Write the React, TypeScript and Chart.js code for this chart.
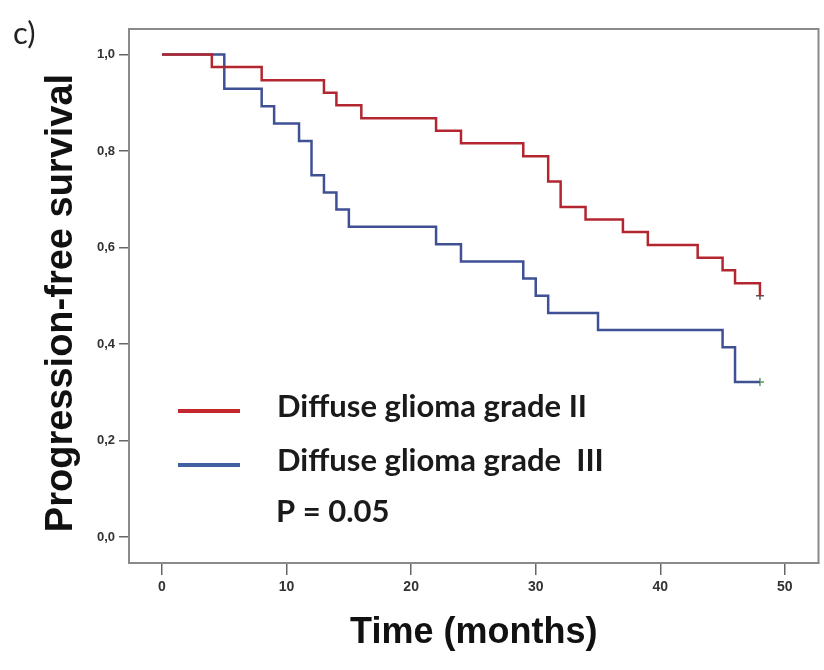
import React, { useEffect, useRef } from "react";
import { Chart, registerables } from "chart.js";

Chart.register(...registerables);

// Kaplan-Meier step data (time in months, survival)
const gradeIITimes = [0, 4, 8, 13, 14, 16, 22, 24, 29, 31, 32, 34, 37, 39, 43, 45, 46, 48];
const gradeIISurv = [1.0, 0.974, 0.947, 0.921, 0.895, 0.868, 0.842, 0.816, 0.789, 0.737, 0.684, 0.658, 0.632, 0.605, 0.579, 0.553, 0.526, 0.5];

const gradeIIITimes = [0, 5, 8, 9, 11, 12, 13, 14, 15, 22, 24, 29, 30, 31, 35, 45, 46, 48];
const gradeIIISurv = [1.0, 0.929, 0.893, 0.857, 0.821, 0.75, 0.714, 0.679, 0.643, 0.607, 0.571, 0.536, 0.5, 0.464, 0.429, 0.393, 0.321, 0.321];

// censored observations
const gradeIICensorTimes = [48];
const gradeIICensorSurv = [0.5];
const gradeIIICensorTimes = [48];
const gradeIIICensorSurv = [0.321];

const xTickValues = [0, 10, 20, 30, 40, 50];
const yTickValues = [0, 0.2, 0.4, 0.6, 0.8, 1.0];
const yTickLabels = ["0,0", "0,2", "0,4", "0,6", "0,8", "1,0"];

const legendLabels = ["Diffuse glioma grade II", "Diffuse glioma grade  III"];
const pValueText = "P = 0.05";
const panelLabel = "c)";
const xTitle = "Time (months)";
const yTitle = "Progression-free survival";

const RED = "#b3262f";
const BLUE = "#3f5094";
const LEG_RED = "#c3272d";
const LEG_BLUE = "#41609f";
const FRAME = "#8a8a8a";

function toPoints(xs: number[], ys: number[]) {
  return xs.map((x, i) => ({ x, y: ys[i] }));
}

const overlayPlugin = {
  id: "overlay",
  afterDraw(chart: any) {
    const { ctx, chartArea } = chart;
    ctx.save();
    // top and right frame lines
    ctx.strokeStyle = FRAME;
    ctx.lineWidth = 2;
    ctx.beginPath();
    ctx.moveTo(chartArea.left, chartArea.top);
    ctx.lineTo(chartArea.right, chartArea.top);
    ctx.lineTo(chartArea.right, chartArea.bottom);
    ctx.stroke();

    // legend
    const rows = [
      { color: LEG_RED, text: legendLabels[0], lineY: 411, baseY: 417 },
      { color: LEG_BLUE, text: legendLabels[1], lineY: 465, baseY: 471 },
    ];
    ctx.font = "bold 31px Lato";
    ctx.textBaseline = "alphabetic";
    ctx.textAlign = "left";
    rows.forEach((r) => {
      ctx.strokeStyle = r.color;
      ctx.lineWidth = 4;
      ctx.beginPath();
      ctx.moveTo(178, r.lineY);
      ctx.lineTo(240, r.lineY);
      ctx.stroke();
      ctx.fillStyle = "#1a1a1a";
      ctx.fillText(r.text, 277, r.baseY);
    });
    ctx.fillStyle = "#1a1a1a";
    ctx.fillText(pValueText, 276, 522);

    // y-axis title
    ctx.save();
    ctx.translate(62, 303);
    ctx.rotate(-Math.PI / 2);
    ctx.font = "bold 38px 'Liberation Sans'";
    ctx.textAlign = "center";
    ctx.textBaseline = "middle";
    ctx.fillStyle = "#111";
    ctx.fillText(yTitle, 0, 0);
    ctx.restore();

    // panel label
    ctx.font = "31px Lato";
    ctx.textAlign = "left";
    ctx.textBaseline = "alphabetic";
    ctx.fillStyle = "#222";
    ctx.fillText(panelLabel, 13, 44);
    ctx.restore();
  },
};

export default function App() {
  const ref = useRef<HTMLCanvasElement>(null);
  useEffect(() => {
    if (!ref.current) return;
    const chart = new Chart(ref.current, {
      type: "line",
      data: {
        datasets: [
          {
            label: legendLabels[0],
            data: toPoints(gradeIITimes, gradeIISurv),
            borderColor: RED,
            borderWidth: 2.5,
            stepped: "before",
            pointRadius: 0,
            fill: false,
          },
          {
            label: legendLabels[1],
            data: toPoints(gradeIIITimes, gradeIIISurv),
            borderColor: BLUE,
            borderWidth: 2.5,
            stepped: "before",
            pointRadius: 0,
            fill: false,
          },
          {
            label: "censored II",
            data: toPoints(gradeIICensorTimes, gradeIICensorSurv),
            showLine: false,
            pointStyle: "cross",
            pointRadius: 4,
            pointBorderWidth: 1.5,
            borderColor: "#555",
          },
          {
            label: "censored III",
            data: toPoints(gradeIIICensorTimes, gradeIIICensorSurv),
            showLine: false,
            pointStyle: "cross",
            pointRadius: 4,
            pointBorderWidth: 1.5,
            borderColor: "#5c9a62",
          },
        ],
      },
      options: {
        responsive: false,
        animation: false,
        layout: { padding: { left: 0, top: 29, right: 5, bottom: 0 } },
        plugins: { legend: { display: false }, tooltip: { enabled: false } },
        scales: {
          x: {
            type: "linear",
            min: -2.65,
            max: 52.7,
            afterFit: (s: any) => {
              s.height = 107;
            },
            afterBuildTicks: (s: any) => {
              s.ticks = xTickValues.map((v) => ({ value: v }));
            },
            grid: { drawOnChartArea: false, tickLength: 12, color: "#666", lineWidth: 1.5 },
            border: { display: true, color: FRAME, width: 2 },
            ticks: {
              padding: 4,
              color: "#333",
              font: { family: "Liberation Sans", size: 14, weight: "bold" },
              maxRotation: 0,
            },
            title: {
              display: true,
              text: xTitle,
              color: "#111",
              font: { family: "Liberation Sans", size: 36, weight: "bold" },
              padding: { top: 0, bottom: 15 },
            },
          },
          y: {
            type: "linear",
            min: -0.054,
            max: 1.053,
            afterFit: (s: any) => {
              s.width = 129;
            },
            afterBuildTicks: (s: any) => {
              s.ticks = yTickValues.map((v) => ({ value: v }));
            },
            grid: { drawOnChartArea: false, tickLength: 10, color: "#666", lineWidth: 1.5 },
            border: { display: true, color: FRAME, width: 2 },
            ticks: {
              padding: 4,
              color: "#333",
              font: { family: "Liberation Sans", size: 13, weight: "bold" },
              callback: (v: any) => {
                const i = yTickValues.findIndex((t) => Math.abs(t - Number(v)) < 1e-6);
                return i >= 0 ? yTickLabels[i] : "";
              },
            },
            title: { display: false },
          },
        },
      },
      plugins: [overlayPlugin],
    });
    return () => chart.destroy();
  }, []);
  return (
    <div style={{ position: "absolute", left: 0, top: 0, width: 824, height: 670, background: "#fff" }}>
      <canvas ref={ref} width={824} height={670} />
    </div>
  );
}
